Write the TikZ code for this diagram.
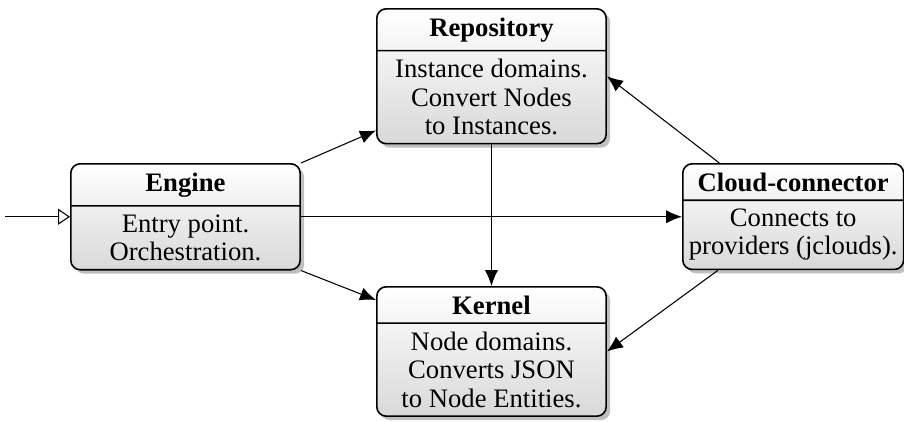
\documentclass[tikz,border=0pt]{standalone}
\usepackage{fontspec}
\setmainfont{Liberation Serif}
\usetikzlibrary{shapes.multipart,shadows,arrows.meta,calc}
\tikzset{
    module/.style={rectangle split, rectangle split parts=2, draw=black, semithick,
        rounded corners=3.5pt, top color=white, bottom color=black!15,
        drop shadow={shadow xshift=1.5pt, shadow yshift=-1.5pt, fill=black!25, opacity=1},
        align=center, minimum width=86pt, inner xsep=3.33pt, inner ysep=3pt,
        font=\fontsize{10}{10.6}\selectfont, anchor=north west},
    link/.style={draw=black, -{Latex[length=6pt,width=5pt]}},
    entry/.style={draw=black, -{Triangle[open,length=4.5pt,width=6pt]}},
}
\begin{document}
\begin{tikzpicture}[x=0.375pt, y=-0.375pt]
    \useasboundingbox (0,0) rectangle (904,421);
    \node[module] (Engine) at (70,163) {\textbf{Engine}
        \nodepart{two} Entry point.\\Orchestration.};
    \node[module] (Repository) at (376,8) {\textbf{Repository}
        \nodepart{two} Instance domains.\\Convert Nodes\\to Instances.};
    \node[module] (Kernel) at (376,286) {\textbf{Kernel}
        \nodepart{two} Node domains.\\Converts JSON\\to Node Entities.};
    \node[module, minimum width=82.8pt, inner xsep=2pt] (Cloud) at (682,163) {\textbf{Cloud-connector}
        \nodepart{two} Connects to\\providers (jclouds).};
    \coordinate (start) at (5,0);
    \draw[entry] (start |- Engine.west) -- (Engine.west);
    \draw[link] (Engine.north east) -- ([yshift=5.25pt]Repository.south west);
    \draw[link] (Engine.south east) -- ([yshift=-5.25pt]Kernel.north west);
    \draw[link] (Engine.east) -- (Engine.east -| Cloud.west);
    \draw[link] (Repository.south) -- (Kernel.north);
    \draw[link] ([xshift=14pt]Cloud.north west) -- (Repository.east);
    \draw[link] ([xshift=13.5pt]Cloud.south west) -- (Kernel.east);
\end{tikzpicture}
\end{document}
